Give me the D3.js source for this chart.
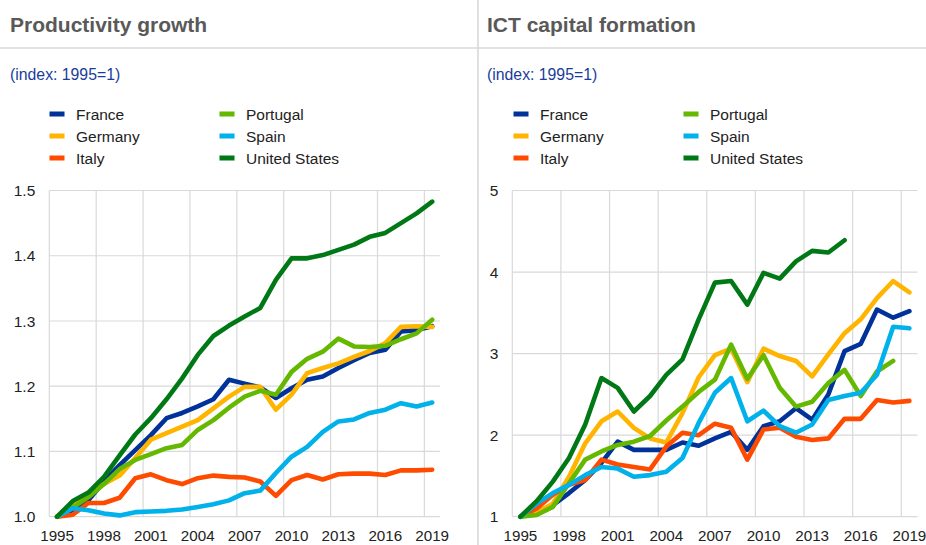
<!DOCTYPE html>
<html><head><meta charset="utf-8">
<script src="https://cdn.jsdelivr.net/npm/d3@7"></script>
<style>body{margin:0;background:#fff} svg{display:block;font-family:"Liberation Sans",Arial,Helvetica,sans-serif}</style>
</head><body><svg id="c" width="926" height="545"></svg>
<script>
const years = [1995,1996,1997,1998,1999,2000,2001,2002,2003,2004,2005,2006,2007,2008,2009,2010,2011,2012,2013,2014,2015,2016,2017,2018,2019];
const xTickYears = [1995,1998,2001,2004,2007,2010,2013,2016,2019];
const countries = ["France","Germany","Italy","Portugal","Spain","United States"];
const colors = ["#003299","#ffb400","#ff4b00","#65b800","#00b1ea","#007816"];

// Productivity growth (index: 1995=1)
const prodFrance   = [1.000,1.010,1.025,1.054,1.079,1.102,1.125,1.151,1.159,1.169,1.180,1.210,1.204,1.198,1.182,1.197,1.210,1.215,1.228,1.240,1.251,1.256,1.284,1.286,1.292];
const prodGermany  = [1.000,1.018,1.037,1.050,1.063,1.090,1.118,1.128,1.138,1.148,1.166,1.184,1.199,1.199,1.164,1.187,1.220,1.228,1.235,1.245,1.254,1.266,1.291,1.292,1.291];
const prodItaly    = [1.000,1.003,1.021,1.021,1.029,1.059,1.065,1.056,1.050,1.059,1.063,1.061,1.060,1.054,1.032,1.056,1.064,1.057,1.065,1.066,1.066,1.064,1.071,1.071,1.072];
const prodPortugal = [1.000,1.014,1.030,1.050,1.073,1.087,1.096,1.105,1.110,1.133,1.148,1.167,1.184,1.193,1.187,1.222,1.242,1.253,1.273,1.261,1.260,1.262,1.272,1.281,1.302];
const prodSpain    = [1.000,1.013,1.010,1.005,1.002,1.007,1.008,1.009,1.011,1.015,1.019,1.025,1.036,1.040,1.067,1.092,1.107,1.130,1.146,1.149,1.159,1.164,1.174,1.169,1.175];
const prodUS       = [1.000,1.024,1.037,1.061,1.094,1.126,1.151,1.180,1.212,1.248,1.277,1.293,1.307,1.320,1.363,1.396,1.396,1.401,1.409,1.417,1.429,1.435,1.450,1.465,1.483];
const prodTicks = [1.0,1.1,1.2,1.3,1.4,1.5];

// ICT capital formation (index: 1995=1)
const ictFrance   = [1.00,1.06,1.14,1.29,1.45,1.66,1.92,1.82,1.82,1.82,1.91,1.87,1.96,2.04,1.82,2.11,2.17,2.33,2.19,2.50,3.03,3.12,3.54,3.44,3.52];
const ictGermany  = [1.00,1.05,1.16,1.49,1.90,2.17,2.29,2.09,1.96,1.91,2.27,2.71,2.98,3.06,2.65,3.06,2.97,2.91,2.72,2.99,3.25,3.42,3.68,3.89,3.75];
const ictItaly    = [1.00,1.10,1.27,1.39,1.45,1.70,1.64,1.61,1.58,1.86,2.03,2.00,2.14,2.09,1.70,2.07,2.09,1.98,1.94,1.96,2.20,2.20,2.43,2.40,2.42];
const ictPortugal = [1.00,1.02,1.12,1.41,1.70,1.80,1.88,1.92,1.99,2.18,2.35,2.53,2.68,3.11,2.69,2.98,2.58,2.35,2.41,2.64,2.80,2.48,2.78,2.91,null];
const ictSpain    = [1.00,1.16,1.29,1.39,1.51,1.61,1.59,1.49,1.51,1.55,1.72,2.15,2.52,2.70,2.17,2.30,2.11,2.03,2.13,2.43,2.48,2.52,2.74,3.33,3.31];
const ictUS       = [1.00,1.19,1.43,1.72,2.13,2.70,2.58,2.29,2.48,2.74,2.93,3.42,3.87,3.89,3.60,3.99,3.92,4.13,4.26,4.24,4.39,null,null,null,null];
const ictTicks = [1,2,3,4,5];

const svg = d3.select("#c");
const GRID = "#d9d9d9";

// panel separators
svg.append("line").attr("x1",0).attr("x2",926).attr("y1",48).attr("y2",48).attr("stroke",GRID).attr("stroke-width",1.6);
svg.append("line").attr("x1",478).attr("x2",478).attr("y1",0).attr("y2",545).attr("stroke",GRID).attr("stroke-width",1.6);

function panel(ox, legendX, title, seriesList, yDomain, yTicks, yFmt, plotLeft, plotRight) {
  const g = svg.append("g");
  g.append("text").attr("x", ox + 10).attr("y", 32).attr("font-size", 21).attr("font-weight", "bold")
    .attr("fill", "#595959").text(title);
  g.append("text").attr("x", ox + 10).attr("y", 80).attr("font-size", 15.8).attr("fill", "#1a3d9c").text("(index: 1995=1)");

  // legend
  countries.forEach((c, i) => {
    const col = Math.floor(i / 3), row = i % 3;
    const lx = legendX + col * 170, ly = 114 + row * 22;
    g.append("rect").attr("x", lx).attr("y", ly - 2.5).attr("width", 15).attr("height", 5).attr("fill", colors[i]);
    g.append("text").attr("x", lx + 26.5).attr("y", ly + 5.5).attr("font-size", 15.5).attr("fill", "#222").text(c);
  });

  const top = 190.5, bottom = 516.7;
  const x = d3.scaleBand().domain(years).range([plotLeft, plotRight]).padding(0);
  const y = d3.scaleLinear().domain(yDomain).range([bottom, top]);

  // horizontal gridlines
  g.append("g").selectAll("line").data(yTicks).join("line")
    .attr("x1", plotLeft).attr("x2", plotRight).attr("y1", d => y(d)).attr("y2", d => y(d))
    .attr("stroke", GRID).attr("stroke-width", 1.2);
  // vertical gridlines at category boundaries
  g.append("g").selectAll("line").data(xTickYears).join("line")
    .attr("x1", d => x(d)).attr("x2", d => x(d)).attr("y1", top).attr("y2", bottom)
    .attr("stroke", GRID).attr("stroke-width", 1.2);

  // y tick labels
  g.append("g").selectAll("text").data(yTicks).join("text")
    .attr("x", plotLeft - 14).attr("y", d => y(d)).attr("dy", "0.36em").attr("text-anchor", "end")
    .attr("font-size", 15.5).attr("fill", "#222").text(d => d3.format(yFmt)(d));
  // x tick labels
  g.append("g").selectAll("text").data(xTickYears).join("text")
    .attr("x", d => x(d) + x.bandwidth() / 2).attr("y", 541).attr("text-anchor", "middle")
    .attr("font-size", 15.2).attr("fill", "#222").text(d => d);

  const line = d3.line().defined(d => d.v != null)
    .x(d => x(d.year) + x.bandwidth() / 2).y(d => y(d.v));
  seriesList.forEach((vals, i) => {
    const pts = years.map((yr, k) => ({year: yr, v: vals[k]}));
    g.append("path").datum(pts).attr("d", line).attr("fill", "none")
      .attr("stroke", colors[i]).attr("stroke-width", 4.6)
      .attr("stroke-linejoin", "round").attr("stroke-linecap", "round");
  });
}

panel(0, 49.5, "Productivity growth", [prodFrance, prodGermany, prodItaly, prodPortugal, prodSpain, prodUS],
  [1.0, 1.5], prodTicks, ".1f", 49.3, 440);
panel(477, 513.5, "ICT capital formation", [ictFrance, ictGermany, ictItaly, ictPortugal, ictSpain, ictUS],
  [1, 5], ictTicks, "d", 512.3, 917.5);
</script></body></html>
